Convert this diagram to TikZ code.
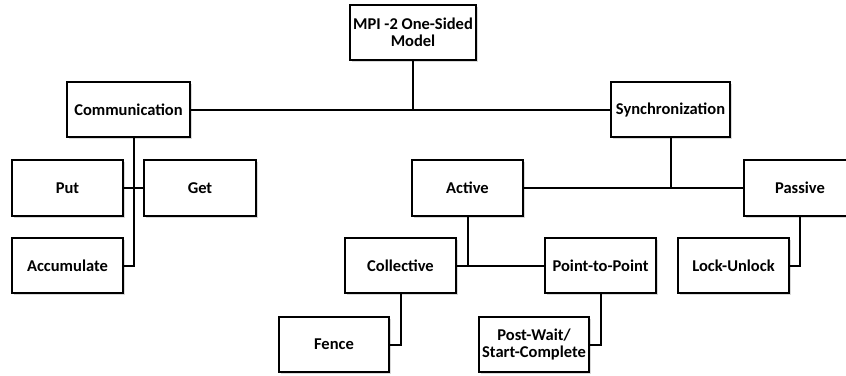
\documentclass[tikz,border=0pt]{standalone}
\usepackage{fontspec}
\setmainfont{Carlito}
\usetikzlibrary{shadows,calc}

\begin{document}
\begin{tikzpicture}[x=1pt,y=-1pt,
    blk/.style={draw, line width=2.6pt, fill=white, minimum height=55pt,
      minimum width=111pt, align=center, inner sep=2pt,
      font=\fontsize{16.5}{17.5}\selectfont\bfseries,
      drop shadow={shadow xshift=1.5pt, shadow yshift=-1.5pt, opacity=.3}},
    wire/.style={line width=2pt}]
    \useasboundingbox (0,0) rectangle (846,375);

    \node[blk, minimum width=126pt] (root) at (413,32.5) {MPI -2 One-Sided\\Model};
    \node[blk, minimum width=123pt] (comm) at (128.5,109.5) {Communication};
    \node[blk, minimum width=119pt] (sync) at (670.5,109.5) {Synchronization};

    \node[blk, minimum height=56pt] (put) at (67.5,188) {Put};
    \node[blk, minimum height=56pt, minimum width=112pt] (get) at (200,188) {Get};
    \node[blk] (acc) at (67.5,265.5) {Accumulate};

    \node[blk, minimum height=56pt] (active) at (467.5,188) {Active};
    \node[blk, minimum height=56pt, minimum width=112pt] (passive) at (800,188) {Passive};
    \node[blk] (coll) at (400.5,265.5) {Collective};
    \node[blk] (p2p) at (600.5,265.5) {Point-to-Point};
    \node[blk] (lock) at (733.5,265.5) {Lock-Unlock};
    \node[blk, minimum width=110pt] (fence) at (334,344.5) {Fence};
    \node[blk, minimum width=110pt] (post) at (534,344.5) {Post-Wait/\\Start-Complete};

    % Edges
    \draw[wire] (root.south) -- (root.south |- comm.east);
    \draw[wire] (comm) -- (sync);
    \coordinate (cbus) at ($(put.east)!.5!(get.west)$);
    \draw[wire] (comm.south -| cbus) -- (cbus |- acc.east) -- (acc.east);
    \draw[wire] (put) -- (get);
    \draw[wire] (sync.south) -- (sync.south |- active.east);
    \draw[wire] (active) -- (passive);
    \draw[wire] (active.south) -- (active.south |- coll.east);
    \draw[wire] (coll) -- (p2p);
    \draw[wire] (coll.south) -- (coll.south |- fence.east) -- (fence.east);
    \draw[wire] (p2p.south) -- (p2p.south |- post.east) -- (post.east);
    \draw[wire] (passive.south) -- (passive.south |- lock.east) -- (lock.east);
\end{tikzpicture}
\end{document}
